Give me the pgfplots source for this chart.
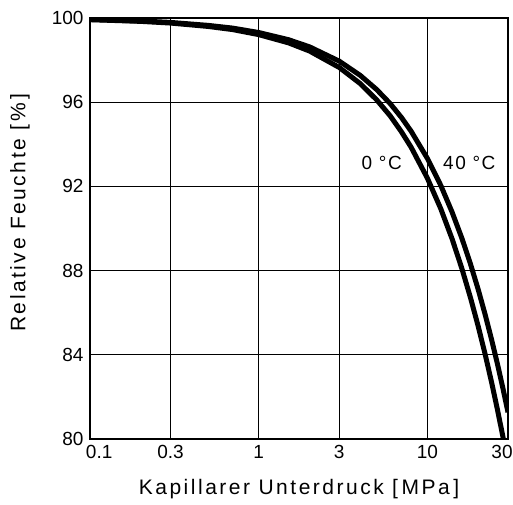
\documentclass[border=0pt]{standalone}
\usepackage{fontspec}
\setmainfont{Liberation Sans}
\usepackage{pgfplots}
\pgfplotsset{compat=1.18}

\begin{document}
\begin{tikzpicture}
\begin{axis}[
    scale only axis,
    width=418pt, height=421pt,
    xmode=log,
    xmin=0.1, xmax=30,
    ymin=80, ymax=100,
    xtick={0.1,0.3,1,3,10,30},
    xticklabels={\makebox[0pt][l]{\hspace{-4pt}0.1},0.3,1,3,10,\makebox[0pt]{\hspace{-12pt}30}},
    ytick={80,84,88,92,96,100},
    grid=major,
    grid style={black, line width=1.2pt},
    axis line style={black, line width=2pt},
    major tick length=0pt,
    minor tick num=0,
    /pgf/number format/assume math mode=true,
    tick label style={font=\fontsize{19}{19}\selectfont},
    xticklabel style={yshift=-3pt},
    yticklabel style={xshift=-3pt},
    xlabel={Kapillarer Unterdruck [\,MPa\,]},
    ylabel={Relative Feuchte [\,\%\,]},
    every axis x label/.style={at={(axis description cs:0.5,0)}, anchor=center, yshift=-50pt,
        font=\addfontfeature{LetterSpace=12}\fontsize{21}{21}\selectfont},
    every axis y label/.style={at={(axis description cs:-0.1675,0.538)}, anchor=center, rotate=90,
        font=\addfontfeature{LetterSpace=12}\fontsize{21}{21}\selectfont},
    clip=true,
]
% 0 deg C
\addplot[black, line width=5pt] coordinates {
    (0.1,99.92) (0.2,99.84) (0.3,99.76) (0.5,99.60) (0.7,99.45) (1,99.21)
    (1.5,98.82) (2,98.43) (3,97.65) (4,96.88) (5,96.11) (6,95.36) (7,94.60)
    (8,93.86) (10,92.38) (12,90.93) (14,89.50) (16,88.09) (18,86.70)
    (20,85.34) (22,84.00) (24,82.68) (26,81.38) (28,80.10) (29,79.46)
};
% 40 deg C
\addplot[black, line width=5pt] coordinates {
    (0.1,99.93) (0.2,99.86) (0.3,99.79) (0.5,99.65) (0.7,99.52) (1,99.31)
    (1.5,98.97) (2,98.63) (3,97.95) (4,97.27) (5,96.60) (6,95.94) (7,95.28)
    (8,94.62) (10,93.32) (12,92.04) (14,90.77) (16,89.53) (18,88.30)
    (20,87.09) (22,85.89) (24,84.71) (26,83.55) (28,82.40) (30,81.27)
};
\node[fill=white, inner sep=1pt, font=\addfontfeature{LetterSpace=8}\fontsize{19}{19}\selectfont] at (axis cs:5.35,93.1) {0 °C};
\node[fill=white, inner sep=1pt, font=\addfontfeature{LetterSpace=8}\fontsize{19}{19}\selectfont] at (axis cs:17.7,93.1) {40 °C};
\end{axis}
\path (current axis.south west) ++(-90pt,-65pt);
\path (current axis.north east) ++(5pt,18pt);
\end{tikzpicture}
\end{document}
